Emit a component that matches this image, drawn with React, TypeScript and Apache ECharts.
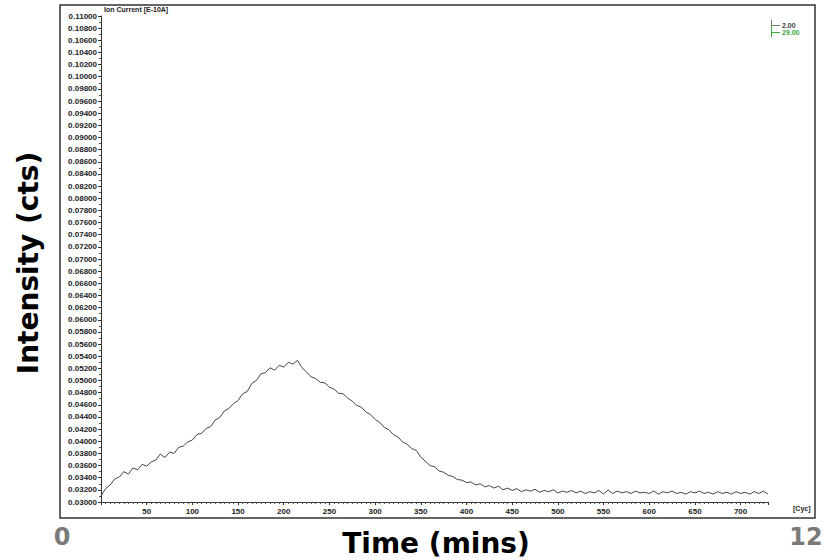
import React, { useEffect, useRef } from "react";
import * as echarts from "echarts";

const CYCLE_STEP = 5;
const intensity = [
  0.0310, 0.0322, 0.0328, 0.0338, 0.0341, 0.0350, 0.0346, 0.0356, 0.0353, 0.0362,
  0.0359, 0.0366, 0.0369, 0.0379, 0.0373, 0.0382, 0.0380, 0.0390, 0.0392, 0.0399,
  0.0402, 0.0411, 0.0413, 0.0421, 0.0424, 0.0435, 0.0439, 0.0450, 0.0454, 0.0462,
  0.0467, 0.0478, 0.0482, 0.0495, 0.0500, 0.0511, 0.0513, 0.0521, 0.0517, 0.0525,
  0.0522, 0.0530, 0.0527, 0.0533, 0.0521, 0.0514, 0.0506, 0.0503, 0.0497, 0.0496,
  0.0489, 0.0486, 0.0479, 0.0478, 0.0471, 0.0466, 0.0459, 0.0456, 0.0448, 0.0444,
  0.0436, 0.0431, 0.0423, 0.0419, 0.0411, 0.0407, 0.0399, 0.0395, 0.0388, 0.0385,
  0.0374, 0.0367, 0.0360, 0.0358, 0.0351, 0.0349, 0.0344, 0.0342, 0.0337, 0.0336,
  0.0332, 0.0333, 0.0328, 0.0330, 0.0325, 0.0327, 0.0323, 0.0326, 0.0320, 0.0323,
  0.0319, 0.0322, 0.0317, 0.0320, 0.0318, 0.0321, 0.0316, 0.0319, 0.0317, 0.0320,
  0.0315, 0.0318, 0.0316, 0.0319, 0.0315, 0.0318, 0.0314, 0.0317, 0.0315, 0.0319,
  0.0313, 0.0320, 0.0314, 0.0318, 0.0315, 0.0317, 0.0314, 0.0318, 0.0315, 0.0316,
  0.0314, 0.0318, 0.0313, 0.0317, 0.0315, 0.0318, 0.0314, 0.0316, 0.0313, 0.0317,
  0.0315, 0.0318, 0.0314, 0.0316, 0.0313, 0.0317, 0.0314, 0.0316, 0.0313, 0.0317,
  0.0314, 0.0316, 0.0313, 0.0317, 0.0314, 0.0318, 0.0313,
];

const X_MIN = 0;
const X_MAX = 730;
const X_INTERVAL = 50;
const Y_MIN = 0.03;
const Y_MAX = 0.11;
const Y_INTERVAL = 0.002;
const legendLabels = ["2.00", "29.00"];
const legendColors = ["#444444", "#3aa83a"];

export default function App() {
  const ref = useRef<HTMLDivElement>(null);
  useEffect(() => {
    if (!ref.current) return;
    const chart = echarts.init(ref.current, null, { renderer: "svg" });
    const data = intensity.map((v, i) => [i * CYCLE_STEP, v]);
    const small = {
      fontFamily: "Liberation Sans",
      fontWeight: "bold" as const,
      fontSize: 8,
      color: "#222",
    };
    const big = {
      fontFamily: "DejaVu Sans",
      fontWeight: "bold" as const,
      align: "center" as const,
      verticalAlign: "middle" as const,
    };
    chart.setOption({
      animation: false,
      backgroundColor: "#ffffff",
      grid: { left: 101, top: 16, right: 58, bottom: 58, containLabel: false },
      xAxis: {
        type: "value",
        min: X_MIN,
        max: X_MAX,
        interval: X_INTERVAL,
        axisLine: { show: true, lineStyle: { color: "#333", width: 1 } },
        axisTick: { show: true, length: 3, lineStyle: { color: "#333" } },
        minorTick: { show: true, splitNumber: 10, length: 2, lineStyle: { color: "#555" } },
        splitLine: { show: false },
        axisLabel: {
          ...small,
          margin: 5,
          showMinLabel: false,
          showMaxLabel: false,
          formatter: (v: number) => (v === 0 ? "" : String(v)),
        },
      },
      yAxis: {
        type: "value",
        min: Y_MIN,
        max: Y_MAX,
        interval: Y_INTERVAL,
        axisLine: { show: true, lineStyle: { color: "#333", width: 1 } },
        axisTick: { show: true, length: 3, lineStyle: { color: "#333" } },
        minorTick: { show: true, splitNumber: 2, length: 2, lineStyle: { color: "#555" } },
        splitLine: { show: false },
        axisLabel: {
          ...small,
          margin: 4,
          formatter: (v: number) => v.toFixed(5),
        },
      },
      series: [
        {
          type: "line",
          data,
          showSymbol: false,
          symbol: "none",
          lineStyle: { color: "#444", width: 1 },
        },
      ],
      graphic: [
        {
          type: "rect",
          shape: { x: 60, y: 5, width: 755, height: 513 },
          style: { fill: "none", stroke: "#333", lineWidth: 1.5 },
          silent: true,
        },
        {
          type: "text",
          x: 104,
          y: 6,
          style: { text: "Ion Current [E-10A]", ...small, fontSize: 7, fill: "#222" },
        },
        {
          type: "text",
          x: 793,
          y: 505,
          style: { text: "[Cyc]", ...small, fontSize: 7, fill: "#222" },
        },
        {
          type: "line",
          shape: { x1: 771.5, y1: 20, x2: 771.5, y2: 26 },
          style: { stroke: "#777", lineWidth: 1 },
        },
        {
          type: "line",
          shape: { x1: 771.5, y1: 26, x2: 771.5, y2: 37 },
          style: { stroke: legendColors[1], lineWidth: 1 },
        },
        {
          type: "line",
          shape: { x1: 771.5, y1: 25.5, x2: 780, y2: 25.5 },
          style: { stroke: "#777", lineWidth: 1 },
        },
        {
          type: "line",
          shape: { x1: 771.5, y1: 32.5, x2: 780, y2: 32.5 },
          style: { stroke: legendColors[1], lineWidth: 1 },
        },
        {
          type: "text",
          x: 782,
          y: 21.5,
          style: { text: legendLabels[0], ...small, fontSize: 7, fill: legendColors[0] },
        },
        {
          type: "text",
          x: 782,
          y: 28.5,
          style: { text: legendLabels[1], ...small, fontSize: 7, fill: legendColors[1] },
        },
        {
          type: "text",
          x: 436,
          y: 543,
          style: { ...big, text: "Time (mins)", fontSize: 28, fill: "#000" },
        },
        {
          type: "text",
          x: 28,
          y: 263,
          rotation: Math.PI / 2,
          style: { ...big, text: "Intensity (cts)", fontSize: 28, fill: "#000" },
        },
        {
          type: "text",
          x: 62,
          y: 537,
          style: { ...big, text: "0", fontSize: 24, fill: "#7a7a7a" },
        },
        {
          type: "text",
          x: 806,
          y: 537,
          style: { ...big, text: "12", fontSize: 24, fill: "#7a7a7a" },
        },
      ],
    });
    return () => chart.dispose();
  }, []);
  return (
    <div
      ref={ref}
      style={{ position: "fixed", left: 0, top: 0, width: 826, height: 560, background: "#fff" }}
    />
  );
}
